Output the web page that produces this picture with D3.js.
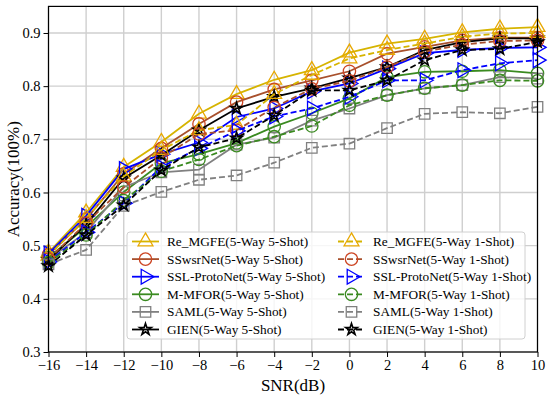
<!DOCTYPE html>
<html>
<head>
<meta charset="utf-8">
<script src="https://cdn.jsdelivr.net/npm/d3@7"></script>
<style>
  html, body { margin: 0; padding: 0; background: #fff; }
  svg { display: block; }
  text { font-family: "Liberation Serif", "Times New Roman", serif; fill: #000; }
</style>
</head>
<body>
<svg id="chart" width="550" height="399"></svg>
<script>
// ---------- data ----------
const snr = [-16, -14, -12, -10, -8, -6, -4, -2, 0, 2, 4, 6, 8, 10];
const xTicks = [-16, -14, -12, -10, -8, -6, -4, -2, 0, 2, 4, 6, 8, 10];
const yTicks = [0.3, 0.4, 0.5, 0.6, 0.7, 0.8, 0.9];

const reMGFE5  = [0.487, 0.562, 0.648, 0.695, 0.748, 0.785, 0.812, 0.830, 0.863, 0.880, 0.889, 0.901, 0.908, 0.911];
const ssws5    = [0.483, 0.550, 0.635, 0.683, 0.729, 0.770, 0.794, 0.811, 0.828, 0.861, 0.874, 0.886, 0.891, 0.891];
const sslProto5= [0.485, 0.556, 0.644, 0.672, 0.694, 0.742, 0.758, 0.790, 0.805, 0.833, 0.862, 0.868, 0.872, 0.873];
const mmfor5   = [0.478, 0.535, 0.601, 0.655, 0.672, 0.693, 0.724, 0.749, 0.777, 0.817, 0.827, 0.828, 0.830, 0.824];
const saml5    = [0.475, 0.525, 0.610, 0.638, 0.643, 0.690, 0.703, 0.735, 0.758, 0.783, 0.796, 0.802, 0.817, 0.814];
const gien5    = [0.473, 0.540, 0.627, 0.670, 0.717, 0.758, 0.780, 0.796, 0.815, 0.836, 0.868, 0.883, 0.890, 0.890];

const reMGFE1  = [0.481, 0.552, 0.630, 0.680, 0.717, 0.727, 0.785, 0.821, 0.852, 0.868, 0.880, 0.893, 0.899, 0.900];
const ssws1    = [0.475, 0.542, 0.610, 0.665, 0.710, 0.717, 0.760, 0.795, 0.810, 0.836, 0.865, 0.878, 0.885, 0.886];
const sslProto1= [0.470, 0.525, 0.580, 0.648, 0.683, 0.716, 0.743, 0.758, 0.780, 0.811, 0.811, 0.830, 0.843, 0.849];
const mmfor1   = [0.468, 0.520, 0.585, 0.640, 0.662, 0.688, 0.705, 0.725, 0.764, 0.783, 0.796, 0.802, 0.811, 0.810];
const saml1    = [0.465, 0.492, 0.575, 0.601, 0.624, 0.632, 0.656, 0.684, 0.692, 0.721, 0.748, 0.751, 0.749, 0.761];
const gien1    = [0.462, 0.520, 0.576, 0.642, 0.685, 0.702, 0.745, 0.792, 0.792, 0.811, 0.849, 0.868, 0.870, 0.883];

const seriesNames = [
  "Re_MGFE(5-Way 5-Shot)", "SSwsrNet(5-Way 5-Shot)", "SSL-ProtoNet(5-Way 5-Shot)",
  "M-MFOR(5-Way 5-Shot)", "SAML(5-Way 5-Shot)", "GIEN(5-Way 5-Shot)",
  "Re_MGFE(5-Way 1-Shot)", "SSwsrNet(5-Way 1-Shot)", "SSL-ProtoNet(5-Way 1-Shot)",
  "M-MFOR(5-Way 1-Shot)", "SAML(5-Way 1-Shot)", "GIEN(5-Way 1-Shot)"
];
const seriesValues = [reMGFE5, ssws5, sslProto5, mmfor5, saml5, gien5,
                      reMGFE1, ssws1, sslProto1, mmfor1, saml1, gien1];

// ---------- styles ----------
const lineColors   = ["#d6b400", "#a8502c", "#0000ff", "#3a8a20", "#808080", "#000000"];
const markerColors = ["#e8a800", "#cc4422", "#0000ff", "#3a8a20", "#808080", "#000000"];
const markerKinds  = ["triUp", "circle", "triRight", "circle", "square", "star"];

const svg = d3.select("#chart");
const W = 550, H = 399;
const margin = { left: 48.5, right: 12.5, top: 6.4, bottom: 47 };

const x = d3.scaleLinear().domain([-16, 10]).range([margin.left, W - margin.right]);
const y = d3.scaleLinear().domain([0.3, 0.95]).range([H - margin.bottom, margin.top]);

// grid
const grid = svg.append("g");
grid.selectAll("line.vx").data(xTicks).enter().append("line")
  .attr("x1", d => x(d)).attr("x2", d => x(d))
  .attr("y1", y.range()[0]).attr("y2", y.range()[1])
  .attr("stroke", "#cfcfcf").attr("stroke-width", 1.4);
grid.selectAll("line.hy").data(yTicks).enter().append("line")
  .attr("y1", d => y(d)).attr("y2", d => y(d))
  .attr("x1", x.range()[0]).attr("x2", x.range()[1])
  .attr("stroke", "#cfcfcf").attr("stroke-width", 1.4);

// axes
const fmtX = d => (d < 0 ? "\u2212" + Math.abs(d) : String(d));
const xAxis = d3.axisBottom(x).tickValues(xTicks).tickFormat(fmtX).tickSize(5).tickPadding(3);
const yAxis = d3.axisLeft(y).tickValues(yTicks).tickFormat(d3.format(".1f")).tickSize(5).tickPadding(3);

const gx = svg.append("g").attr("transform", `translate(0,${y.range()[0]})`).call(xAxis);
const gy = svg.append("g").attr("transform", `translate(${x.range()[0]},0)`).call(yAxis);
[gx, gy].forEach(g => {
  g.select(".domain").remove();
  g.selectAll(".tick line").attr("stroke", "#000").attr("stroke-width", 1);
  g.selectAll(".tick text").attr("font-size", 14.5).attr("font-family", "Liberation Serif").attr("fill", "#000");
});

// symbols
function symbolPath(kind) {
  switch (kind) {
    case "circle":   return d3.symbol(d3.symbolCircle, 120)();
    case "square":   return d3.symbol(d3.symbolSquare, 110)();
    case "star":     return d3.symbol(d3.symbolStar, 42)();
    default:         return d3.symbol(d3.symbolTriangle, 95)();
  }
}
function symbolRotate(kind) { return kind === "triRight" ? 90 : 0; }
function symbolStroke(kind) { return kind === "star" ? 1.6 : 1.3; }

const plot = svg.append("g");
const line = d3.line().x((d, i) => x(snr[i])).y(d => y(d));

seriesValues.forEach((vals, si) => {
  const k = si % 6;
  const dashed = si >= 6;
  const g = plot.append("g");
  g.append("path").datum(vals)
    .attr("d", line)
    .attr("fill", "none")
    .attr("stroke", lineColors[k])
    .attr("stroke-width", 1.8)
    .attr("stroke-dasharray", dashed ? "6,3" : null);
  g.selectAll("path.m").data(vals).enter().append("path")
    .attr("d", symbolPath(markerKinds[k]))
    .attr("transform", (d, i) => `translate(${x(snr[i])},${y(d)}) rotate(${symbolRotate(markerKinds[k])})`)
    .attr("fill", "none")
    .attr("stroke", markerColors[k])
    .attr("stroke-width", symbolStroke(markerKinds[k]));
});

// frame
svg.append("rect")
  .attr("x", x.range()[0]).attr("y", y.range()[1])
  .attr("width", x.range()[1] - x.range()[0]).attr("height", y.range()[0] - y.range()[1])
  .attr("fill", "none").attr("stroke", "#000").attr("stroke-width", 1.2);

// axis titles
svg.append("text").attr("x", (x.range()[0] + x.range()[1]) / 2).attr("y", 391)
  .attr("text-anchor", "middle").attr("font-size", 17).text("SNR(dB)");
svg.append("text").attr("transform", `translate(19,${(y.range()[0] + y.range()[1]) / 2}) rotate(-90)`)
  .attr("text-anchor", "middle").attr("font-size", 17).text("Accuracy(100%)");

// legend
const lg = svg.append("g");
const lgX = 127, lgY = 232, lgW = 398, lgH = 107;
lg.append("rect").attr("x", lgX).attr("y", lgY).attr("width", lgW).attr("height", lgH)
  .attr("rx", 3).attr("fill", "rgba(255,255,255,0.8)").attr("stroke", "#d0d0d0").attr("stroke-width", 1);
const rowH = 17.6, row0 = 241.5;
const colX = [132, 338];
seriesNames.forEach((name, si) => {
  const col = si < 6 ? 0 : 1;
  const row = si % 6;
  const k = si % 6;
  const cy = row0 + row * rowH;
  const x0 = colX[col];
  lg.append("line").attr("x1", x0).attr("x2", x0 + 27).attr("y1", cy).attr("y2", cy)
    .attr("stroke", lineColors[k]).attr("stroke-width", 1.8)
    .attr("stroke-dasharray", col === 1 ? "6,3" : null);
  lg.append("path").attr("d", symbolPath(markerKinds[k]))
    .attr("transform", `translate(${x0 + 13.5},${cy}) rotate(${symbolRotate(markerKinds[k])})`)
    .attr("fill", "none").attr("stroke", markerColors[k]).attr("stroke-width", symbolStroke(markerKinds[k]));
  lg.append("text").attr("x", x0 + 35).attr("y", cy + 4.5).attr("font-size", 13.3).text(name);
});
</script>
</body>
</html>
